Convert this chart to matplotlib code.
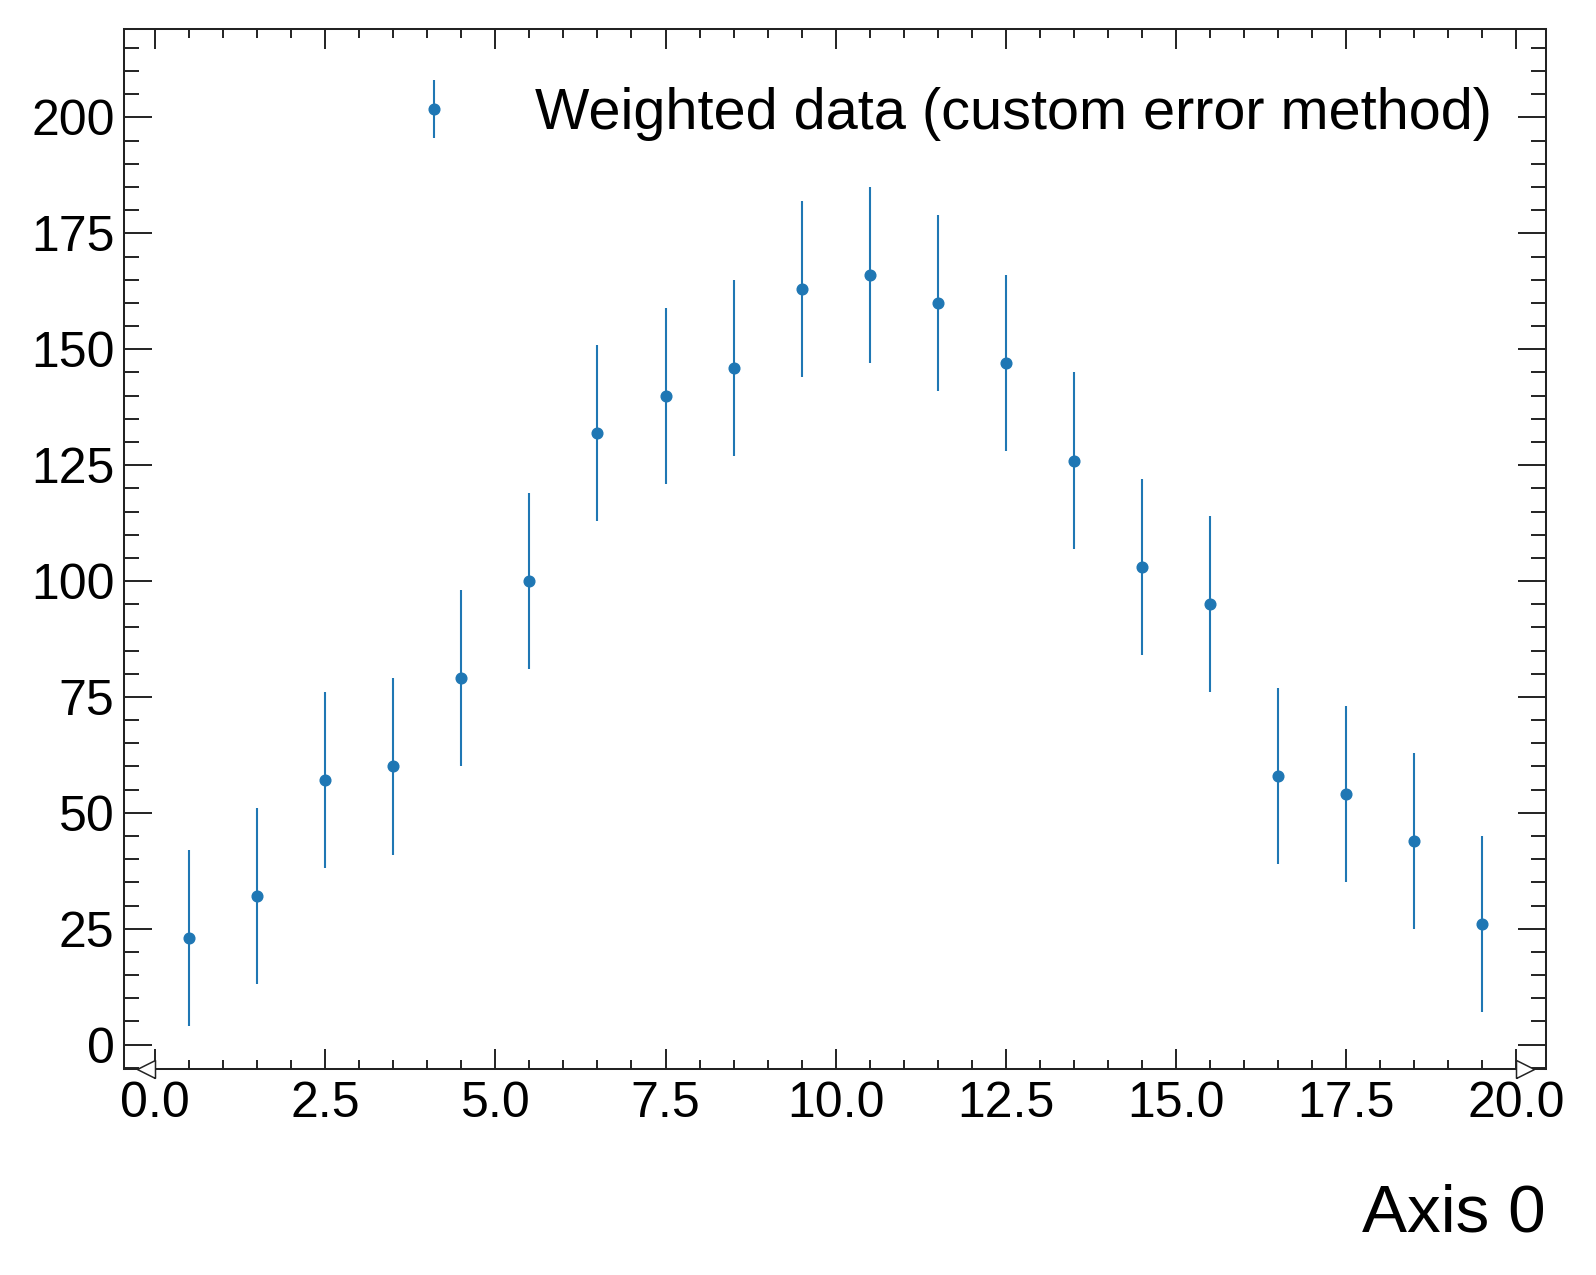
"""
Weighted histogram drawn as points with error bars, HEP style.
"""

import numpy as np
import matplotlib
matplotlib.use("Agg")
import matplotlib.pyplot as plt
from matplotlib.ticker import MultipleLocator
from matplotlib.transforms import blended_transform_factory

# bin edges and weighted counts
bin_edges = np.arange(0, 21, 1)
counts = [23, 32, 57, 60, 79, 100, 132, 140, 146, 163,
          166, 160, 147, 126, 103, 95, 58, 54, 44, 26]
errors = [19, 19, 19, 19, 19, 19, 19, 19, 19, 19,
          19, 19, 19, 19, 19, 19, 19, 19, 19, 19]
series_label = "Weighted data (custom error method)"
x_label = "Axis 0"

plt.rcParams['font.family'] = ['Liberation Sans', 'DejaVu Sans']

fig = plt.figure(figsize=(15.96, 12.75), dpi=100)
ax = fig.add_axes([0.0779, 0.1618, 0.8906, 0.8155])

centers = 0.5 * (bin_edges[:-1] + bin_edges[1:])
ax.errorbar(centers, counts, yerr=errors, fmt='o', color='#1f77b4',
            markersize=7.7, elinewidth=1.5, capsize=0, label=series_label)

ax.set_xlim(-0.45, 20.43)
ax.set_ylim(-5.2, 219.1)

# ticks: inward, mirrored on all sides
ax.xaxis.set_major_locator(MultipleLocator(2.5))
ax.xaxis.set_minor_locator(MultipleLocator(0.5))
ax.yaxis.set_major_locator(MultipleLocator(25))
ax.yaxis.set_minor_locator(MultipleLocator(5))
ax.tick_params(which='both', direction='in', top=True, right=True,
               width=1.4, color='#222222')
ax.tick_params(axis='x', which='major', length=14.5, pad=9.0, labelsize=36)
ax.tick_params(axis='x', which='minor', length=6.7)
ax.tick_params(axis='y', which='major', length=20.5, pad=7.0, labelsize=36)
ax.tick_params(axis='y', which='minor', length=11)
ax.xaxis.set_major_formatter(matplotlib.ticker.FormatStrFormatter('%.1f'))
for spine in ax.spines.values():
    spine.set_linewidth(1.45)
    spine.set_color('#222222')

# flow markers at the ends of the x axis
trans = blended_transform_factory(ax.transData, ax.transAxes)
left_tri = [(0, -1), (-2, 0), (0, 1), (0, -1)]
right_tri = [(0, -1), (2, 0), (0, 1), (0, -1)]
ax.plot([bin_edges[0]], [0], marker=left_tri, markersize=26, color='white',
        markeredgecolor='#222222', markeredgewidth=1.1, transform=trans,
        clip_on=False, zorder=5)
ax.plot([bin_edges[-1]], [0], marker=right_tri, markersize=26, color='white',
        markeredgecolor='#222222', markeredgewidth=1.1, transform=trans,
        clip_on=False, zorder=5)

ax.set_xlabel(x_label, fontsize=48.6, loc='right')
ax.xaxis.set_label_coords(1.0, -0.1568)
ax.xaxis.label.set_va('baseline')

ax.legend(loc='upper right', bbox_to_anchor=(0.9622, 0.9443), frameon=False,
          fontsize=41.5, borderpad=0, borderaxespad=0, handletextpad=0.75)

fig.savefig('out.png', dpi=100)
